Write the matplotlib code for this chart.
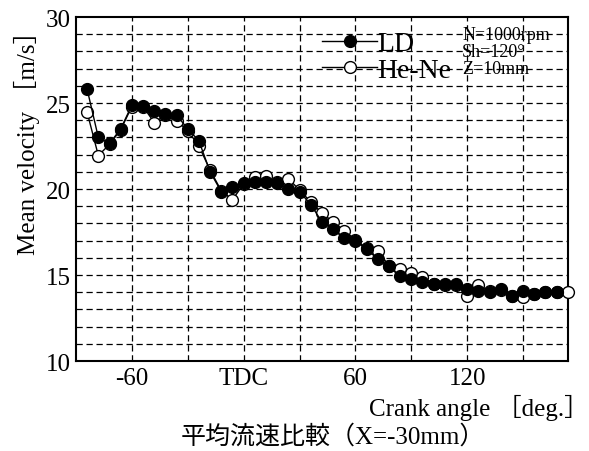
import numpy as np
import matplotlib.pyplot as plt
from matplotlib.ticker import MultipleLocator, FixedLocator

# データ（読み取り値）
angle_ld = list(range(-84, 169, 6))
vel_ld = [25.8, 23.0, 22.65, 23.5, 24.88, 24.84, 24.55, 24.36, 24.3, 23.5,
          22.8, 21.0, 19.85, 20.1, 20.35, 20.43, 20.4, 20.35, 20.0, 19.85,
          19.1, 18.1, 17.67, 17.13, 17.0, 16.5, 15.93, 15.5, 14.92, 14.77,
          14.57, 14.5, 14.48, 14.48, 14.19, 14.09, 14.0, 14.19, 13.76, 14.09,
          13.9, 14.0, 14.0]

angle_hene = list(range(-84, 175, 6))
vel_hene = [24.46, 21.95, 22.6, 23.45, 24.8, 24.8, 23.87, 24.3, 23.97, 23.4,
            22.5, 21.1, 19.9, 19.38, 20.3, 20.68, 20.77, 20.4, 20.6, 19.95,
            19.25, 18.6, 18.1, 17.58, 17.05, 16.55, 16.4, 15.55, 15.38, 15.1,
            14.87, 14.5, 14.45, 14.45, 13.8, 14.42, 14.09, 14.15, 13.8, 13.7,
            13.9, 14.0, 14.0, 14.0]

xtick_pos = [-60, 0, 60, 120]
xtick_labels = ['-60', 'TDC', '60', '120']
ytick_pos = [10, 15, 20, 25, 30]

serif = ['Liberation Serif', 'Noto Sans CJK JP']

fig = plt.figure(figsize=(5.89, 4.52), dpi=100)
ax = fig.add_axes([0.129, 0.199, 0.835, 0.761])

# 格子（破線）
for yv in range(11, 30):
    ax.axhline(yv, color='black', lw=0.9, ls=(0, (5, 3)), zorder=1)
for xv in range(-60, 174, 30):
    ax.axvline(xv, color='black', lw=0.9, ls=(0, (5, 3)), zorder=1)

# He-Ne（白丸）、LD（黒丸）
ax.plot(angle_hene, vel_hene, color='black', lw=1.0, marker='o', ms=8.5,
        mfc='white', mec='black', mew=1.0, label='He-Ne', zorder=3, clip_on=False)
ax.plot(angle_ld, vel_ld, color='black', lw=1.0, marker='o', ms=8.5,
        mfc='black', mec='black', label='LD', zorder=4, clip_on=False)

ax.set_xlim(-90, 174)
ax.set_ylim(10, 30)
ax.xaxis.set_major_locator(FixedLocator(xtick_pos))
ax.set_xticklabels(xtick_labels)
ax.yaxis.set_major_locator(FixedLocator(ytick_pos))
ax.tick_params(axis='both', direction='in', length=0, labelsize=18, pad=4)
for lab in ax.get_xticklabels() + ax.get_yticklabels():
    lab.set_family(serif)
for s in ax.spines.values():
    s.set_linewidth(1.5)

ax.set_ylabel('Mean velocity ［m/s］', fontsize=18, family=serif, labelpad=4,
              loc='top')

# 凡例
h, l = ax.get_legend_handles_labels()
leg = ax.legend([h[1], h[0]], [l[1], l[0]], loc='upper left',
                bbox_to_anchor=(0.5, 0.96), frameon=False,
                handlelength=2.0, handletextpad=0.0, borderpad=0, borderaxespad=0,
                labelspacing=0.05, prop={'family': serif, 'size': 20})

ax.text(0.785, 0.975, 'N=1000rpm\nSh=120°\nZ=10mm', transform=ax.transAxes,
        ha='left', va='top', fontsize=13, family=serif, linespacing=1.0)

fig.text(1.0, 0.097, 'Crank angle ［deg.］', ha='right', va='center',
         fontsize=18, family=serif)
fig.text(0.565, 0.033, '平均流速比較（X=-30mm）', ha='center', va='center',
         fontsize=18, family=serif)

fig.savefig('out.png', dpi=100)
